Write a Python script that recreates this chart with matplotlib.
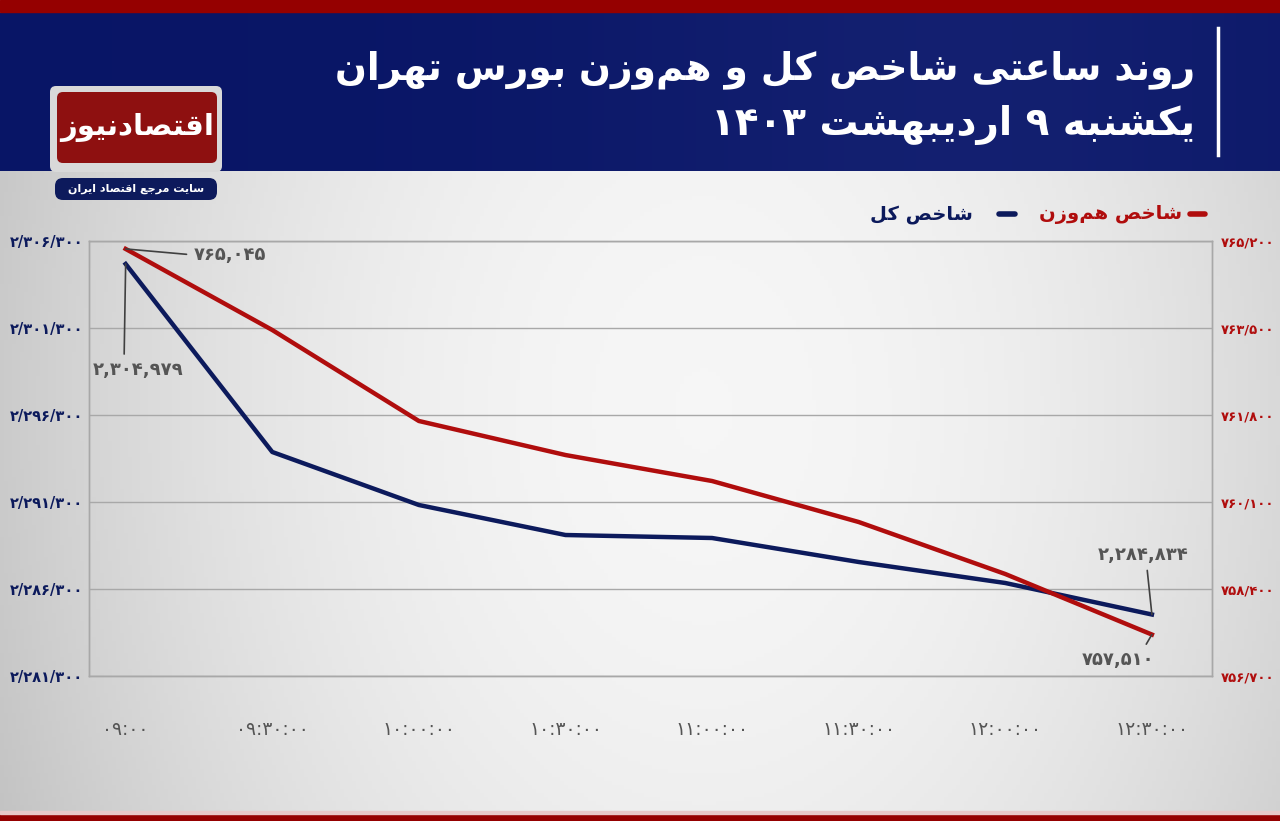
import re
import matplotlib
matplotlib.use("Agg")
import matplotlib.pyplot as plt
import numpy as np
from matplotlib.patches import Rectangle, FancyBboxPatch

# ---- data ----
time_labels = ['09:00', '09:30:00', '10:00:00', '10:30:00',
               '11:00:00', '11:30:00', '12:00:00', '12:30:00']
total_index = [2304979, 2294174, 2291128, 2289403, 2289231, 2287852, 2286645, 2284834]
equal_index = [765045, 763461, 761683, 761018, 760510, 759709, 758693, 757510]
left_ticks = list(range(2281300, 2306301, 5000))
right_ticks = list(range(756700, 765201, 1700))

NAVY = '#0c1a5c'
RED = '#b00d0d'

# ---- minimal persian shaping (matplotlib has no shaping) ----
RIGHT_JOIN = {'\u0627': 0xFE8D, '\u0622': 0xFE81, '\u062F': 0xFEA9, '\u0630': 0xFEAB,
              '\u0631': 0xFEAD, '\u0632': 0xFEAF, '\u0698': 0xFB8A, '\u0648': 0xFEED}
DUAL_JOIN = {'\u0628': 0xFE8F, '\u067E': 0xFB56, '\u062A': 0xFE95, '\u062B': 0xFE99,
             '\u062C': 0xFE9D, '\u0686': 0xFB7A, '\u062D': 0xFEA1, '\u062E': 0xFEA5,
             '\u0633': 0xFEB1, '\u0634': 0xFEB5, '\u0635': 0xFEB9, '\u0636': 0xFEBD,
             '\u0637': 0xFEC1, '\u0638': 0xFEC5, '\u0639': 0xFEC9, '\u063A': 0xFECD,
             '\u0641': 0xFED1, '\u0642': 0xFED5, '\u06A9': 0xFB8E, '\u06AF': 0xFB92,
             '\u0644': 0xFEDD, '\u0645': 0xFEE1, '\u0646': 0xFEE5, '\u0647': 0xFEE9,
             '\u06CC': 0xFBFC}
DIGITS = str.maketrans('0123456789', '۰۱۲۳۴۵۶۷۸۹')
NUM_RUN = r'[0-9\u06F0-\u06F9,/:.]+'


def reshape(s):
    out = []
    for i, ch in enumerate(s):
        prev = s[i - 1] if i > 0 else ''
        nxt = s[i + 1] if i + 1 < len(s) else ''
        joins_prev = prev in DUAL_JOIN
        if ch in DUAL_JOIN:
            joins_next = nxt in DUAL_JOIN or nxt in RIGHT_JOIN
            off = {(False, False): 0, (True, False): 1, (False, True): 2, (True, True): 3}
            out.append(chr(DUAL_JOIN[ch] + off[(joins_prev, joins_next)]))
        elif ch in RIGHT_JOIN:
            out.append(chr(RIGHT_JOIN[ch] + (1 if joins_prev else 0)))
        elif ch == '\u200c':
            continue
        else:
            out.append(ch)
    return ''.join(out)


def fa(s):
    shaped = reshape(s.translate(DIGITS))
    parts = re.findall(NUM_RUN + '|[^0-9\u06F0-\u06F9,/:.]+', shaped)
    return ''.join(p if re.fullmatch(NUM_RUN, p) else p[::-1] for p in reversed(parts))


def fa_num(v, sep):
    return f'{v:,}'.replace(',', sep).translate(DIGITS)


plt.rcParams['font.family'] = ['DejaVu Sans']

fig = plt.figure(figsize=(12.8, 8.21), dpi=100)

# ---- background, header and logo drawn in pixel coordinates ----
bg = fig.add_axes([0, 0, 1, 1], zorder=0)
bg.set_xlim(0, 1280)
bg.set_ylim(821, 0)
bg.axis('off')

xx, yy = np.meshgrid(np.linspace(0, 1, 320), np.linspace(0, 1, 205))
grey = 0.965 - 0.17 * ((xx - 0.55) / 0.55) ** 2 - 0.03 * ((yy - 0.5) / 0.5) ** 2
bg.imshow(np.dstack([grey] * 3), extent=[0, 1280, 821, 0], aspect='auto', zorder=0)

hx = np.linspace(0, 1, 320)
navy_grad = np.array([[0.035, 0.085, 0.40]]) + np.outer(0.04 * np.exp(-((hx - 0.75) / 0.3) ** 2), [1, 1, 1])
bg.imshow(navy_grad[np.newaxis, :, :], extent=[0, 1280, 171, 13], aspect='auto', zorder=1)
bg.add_patch(Rectangle((0, 0), 1280, 12, color='#950000', zorder=2))
bg.add_patch(Rectangle((0, 814), 1280, 7, color='#950000', zorder=2))
bg.add_patch(Rectangle((0, 811), 1280, 3, color='#e8c8c8', zorder=2))

bg.plot([1218, 1218], [28, 155], color='white', lw=2.5, zorder=3)
bg.text(1195, 70, fa('روند ساعتی شاخص کل و هم\u200cوزن بورس تهران'), color='white',
        fontsize=27, fontweight='bold', ha='right', va='center', zorder=3)
bg.text(1195, 125, fa('یکشنبه ۹ اردیبهشت ۱۴۰۳'), color='white',
        fontsize=28, fontweight='bold', ha='right', va='center', zorder=3)

# logo
bg.add_patch(FancyBboxPatch((50, 86), 172, 86, boxstyle='round,pad=0,rounding_size=6',
                            fc='#d9d9d9', ec='none', zorder=3))
bg.add_patch(FancyBboxPatch((57, 92), 160, 71, boxstyle='round,pad=0,rounding_size=6',
                            fc='#8e1010', ec='none', zorder=4))
bg.text(137, 127, fa('اقتصادنیوز'), color='white', fontsize=21, fontweight='bold',
        ha='center', va='center', zorder=5)
bg.add_patch(FancyBboxPatch((55, 178), 162, 22, boxstyle='round,pad=0,rounding_size=8',
                            fc='#0d1a5c', ec='none', zorder=4))
bg.text(136, 189, fa('سایت مرجع اقتصاد ایران'), color='white', fontsize=8,
        fontweight='bold', ha='center', va='center', zorder=5)

# legend
bg.plot([1190, 1205], [214, 214], color=RED, lw=4, solid_capstyle='round', zorder=3)
bg.text(1182, 214, fa('شاخص هم\u200cوزن'), color=RED, fontsize=14, fontweight='bold',
        ha='right', va='center', zorder=3)
bg.plot([999, 1015], [214, 214], color=NAVY, lw=4, solid_capstyle='round', zorder=3)
bg.text(973, 214, fa('شاخص کل'), color=NAVY, fontsize=14, fontweight='bold',
        ha='right', va='center', zorder=3)

# ---- chart ----
W, H = 1280, 821
ax = fig.add_axes([89 / W, (H - 676) / H, (1212 - 89) / W, (676 - 241) / H], zorder=2)
ax.set_facecolor('none')
ax2 = ax.twinx()

x = np.arange(len(time_labels))
ax.plot(x, total_index, color=NAVY, lw=3.2, solid_joinstyle='round', zorder=3)
ax2.plot(x, equal_index, color=RED, lw=3.2, solid_joinstyle='round', zorder=3)

ax.set_xlim(-0.25, 7.41)
ax.set_ylim(left_ticks[0], left_ticks[-1])
ax2.set_ylim(right_ticks[0], right_ticks[-1])

ax.set_yticks(left_ticks)
ax.set_yticklabels([fa_num(v, '/') for v in left_ticks], color=NAVY,
                   fontsize=10.5, fontweight='bold')
ax2.set_yticks(right_ticks)
ax2.set_yticklabels([fa_num(v, '/') for v in right_ticks], color=RED,
                    fontsize=9.5, fontweight='bold')
ax.set_xticks(x)
ax.set_xticklabels([t.translate(DIGITS) for t in time_labels], color='#555555', fontsize=13.5)
ax.tick_params(axis='both', length=0)
ax.tick_params(axis='x', pad=32)
ax.tick_params(axis='y', pad=4)
ax2.tick_params(axis='y', length=0, pad=6)

ax.grid(axis='y', color='#a8a8a8', lw=1)
for a in (ax, ax2):
    for sp in a.spines.values():
        sp.set_color('#a8a8a8')
        sp.set_linewidth(1)

label_style = dict(fontsize=13, fontweight='bold', color='#555555',
                   textcoords='offset pixels', ha='center', va='center')
line_style = dict(arrowstyle='-', color='#404040', lw=1.2, shrinkA=3, shrinkB=0)

ax2.annotate(fa_num(equal_index[0], ','), (x[0], equal_index[0]), xytext=(104, -6),
             arrowprops=dict(line_style, relpos=(0, 0.5)), **label_style)
ax.annotate(fa_num(total_index[0], ','), (x[0], total_index[0]), xytext=(12, -106),
            arrowprops=dict(line_style, relpos=(0.35, 1)), **label_style)
ax.annotate(fa_num(total_index[-1], ','), (x[-1], total_index[-1]), xytext=(-9, 60),
            arrowprops=dict(line_style, relpos=(0.54, 0)), **label_style)
ax2.annotate(fa_num(equal_index[-1], ','), (x[-1], equal_index[-1]), xytext=(-34, -25),
             arrowprops=dict(line_style, relpos=(0.84, 1)), **label_style)

fig.savefig('out.png', dpi=100)
